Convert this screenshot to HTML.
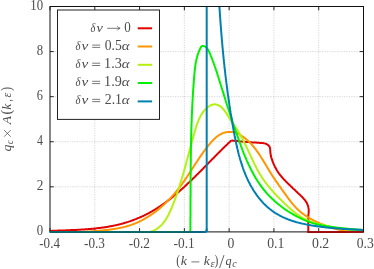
<!DOCTYPE html>
<html><head><meta charset="utf-8"><title>plot</title>
<style>html,body{margin:0;padding:0;background:#fff}svg{display:block}.ser{font-family:"Liberation Serif",serif}</style>
</head><body>
<svg width="374" height="269" viewBox="0 0 374 269">
<rect width="374" height="269" fill="#fff"/>
<path d="M94.79 231.90 V6.50 M139.57 231.90 V6.50 M184.36 231.90 V6.50 M229.14 231.90 V6.50 M273.93 231.90 V6.50 M318.71 231.90 V6.50 M50.00 186.82 H363.50 M50.00 141.74 H363.50 M50.00 96.66 H363.50 M50.00 51.58 H363.50" stroke="#bbb" stroke-width="0.6" stroke-dasharray="1.2 1.25" fill="none"/>
<path d="M50.00 231.90 v-3.80 M50.00 6.50 v3.80 M94.79 231.90 v-3.80 M94.79 6.50 v3.80 M139.57 231.90 v-3.80 M139.57 6.50 v3.80 M184.36 231.90 v-3.80 M184.36 6.50 v3.80 M229.14 231.90 v-3.80 M229.14 6.50 v3.80 M273.93 231.90 v-3.80 M273.93 6.50 v3.80 M318.71 231.90 v-3.80 M318.71 6.50 v3.80 M363.50 231.90 v-3.80 M363.50 6.50 v3.80 M50.00 231.90 h3.80 M363.50 231.90 h-3.80 M50.00 186.82 h3.80 M363.50 186.82 h-3.80 M50.00 141.74 h3.80 M363.50 141.74 h-3.80 M50.00 96.66 h3.80 M363.50 96.66 h-3.80 M50.00 51.58 h3.80 M363.50 51.58 h-3.80 M50.00 6.50 h3.80 M363.50 6.50 h-3.80" stroke="#111" stroke-width="0.9" fill="none"/>
<clipPath id="cp"><rect x="49.00" y="6.50" width="315.50" height="226.60"/></clipPath>
<g fill="none" stroke-width="2.0" stroke-linejoin="round" stroke-linecap="butt" clip-path="url(#cp)">
<path d="M50.0 231.0 L50.8 230.9 L51.6 230.9 L52.4 230.8 L53.2 230.8 L54.0 230.8 L54.8 230.7 L55.6 230.7 L56.4 230.7 L57.2 230.7 L58.0 230.6 L58.8 230.6 L59.6 230.6 L60.3 230.5 L61.1 230.5 L61.9 230.5 L62.7 230.4 L63.5 230.4 L64.4 230.4 L65.2 230.4 L66.0 230.3 L66.8 230.3 L67.6 230.3 L68.4 230.2 L69.2 230.2 L70.0 230.2 L70.8 230.1 L71.6 230.1 L72.4 230.1 L73.2 230.0 L74.0 230.0 L74.8 230.0 L75.6 229.9 L76.4 229.9 L77.2 229.8 L78.1 229.8 L78.9 229.7 L79.7 229.7 L80.5 229.7 L81.3 229.6 L82.1 229.6 L82.9 229.5 L83.7 229.5 L84.5 229.4 L85.3 229.3 L86.1 229.3 L87.0 229.2 L87.8 229.2 L88.6 229.1 L89.4 229.0 L90.2 229.0 L91.0 228.9 L91.8 228.8 L92.6 228.7 L93.4 228.7 L94.2 228.6 L95.0 228.5 L95.8 228.4 L96.6 228.3 L97.4 228.2 L98.3 228.1 L99.1 228.0 L99.9 227.9 L100.7 227.8 L101.5 227.7 L102.3 227.6 L103.1 227.5 L103.9 227.4 L104.7 227.3 L105.5 227.2 L106.3 227.0 L107.1 226.9 L107.9 226.8 L108.6 226.6 L109.4 226.5 L110.2 226.3 L111.0 226.2 L111.8 226.0 L112.6 225.9 L113.4 225.7 L114.2 225.6 L115.0 225.4 L115.8 225.2 L116.5 225.1 L117.3 224.9 L118.1 224.7 L118.9 224.5 L119.7 224.3 L120.4 224.1 L121.2 223.9 L122.0 223.7 L122.8 223.5 L123.5 223.3 L124.3 223.0 L125.1 222.8 L125.9 222.6 L126.6 222.3 L127.4 222.1 L128.1 221.9 L128.9 221.6 L129.7 221.4 L130.4 221.1 L131.2 220.8 L131.9 220.6 L132.7 220.3 L133.4 220.0 L134.2 219.7 L134.9 219.4 L135.7 219.1 L136.4 218.8 L137.2 218.5 L137.9 218.2 L138.6 217.9 L139.4 217.6 L140.1 217.3 L140.9 217.0 L141.6 216.6 L142.3 216.3 L143.0 216.0 L143.8 215.6 L144.5 215.3 L145.2 214.9 L145.9 214.6 L146.6 214.2 L147.3 213.8 L148.0 213.5 L148.8 213.1 L149.5 212.7 L150.2 212.3 L150.9 211.9 L151.6 211.5 L152.3 211.1 L153.0 210.7 L153.6 210.3 L154.3 209.9 L155.0 209.5 L155.7 209.1 L156.4 208.6 L157.1 208.2 L157.7 207.8 L158.4 207.3 L159.1 206.9 L159.8 206.4 L160.4 206.0 L161.1 205.5 L161.7 205.1 L162.4 204.6 L163.1 204.2 L163.7 203.7 L164.4 203.2 L165.0 202.8 L165.7 202.3 L166.3 201.8 L167.0 201.3 L167.6 200.8 L168.3 200.3 L168.9 199.9 L169.5 199.4 L170.2 198.9 L170.8 198.4 L171.4 197.9 L172.1 197.4 L172.7 196.9 L173.3 196.4 L173.9 195.8 L174.6 195.3 L175.2 194.8 L175.8 194.3 L176.4 193.8 L177.0 193.3 L177.6 192.7 L178.3 192.2 L178.9 191.7 L179.5 191.2 L180.1 190.6 L180.7 190.1 L181.3 189.6 L181.9 189.0 L182.5 188.5 L183.1 187.9 L183.7 187.4 L184.3 186.9 L184.9 186.3 L185.5 185.8 L186.1 185.2 L186.6 184.7 L187.2 184.1 L187.8 183.6 L188.4 183.0 L189.0 182.5 L189.6 181.9 L190.2 181.3 L190.7 180.8 L191.3 180.2 L191.9 179.7 L192.5 179.1 L193.1 178.5 L193.6 178.0 L194.2 177.4 L194.8 176.9 L195.4 176.3 L195.9 175.7 L196.5 175.1 L197.1 174.6 L197.7 174.0 L198.2 173.4 L198.8 172.9 L199.4 172.3 L199.9 171.7 L200.5 171.2 L201.1 170.6 L201.7 170.0 L202.2 169.4 L202.8 168.9 L203.4 168.3 L203.9 167.7 L204.5 167.1 L205.1 166.6 L205.6 166.0 L206.2 165.4 L206.7 164.8 L207.3 164.3 L207.9 163.7 L208.4 163.1 L209.0 162.5 L209.6 161.9 L210.1 161.4 L210.7 160.8 L211.3 160.2 L211.8 159.6 L212.4 159.1 L213.0 158.5 L213.5 157.9 L214.1 157.4 L214.6 156.8 L215.2 156.2 L215.8 155.6 L216.3 155.1 L216.9 154.5 L217.5 153.9 L218.0 153.4 L218.6 152.8 L219.2 152.2 L219.7 151.7 L220.3 151.1 L220.9 150.5 L221.5 150.0 L222.0 149.4 L222.6 148.8 L223.2 148.3 L223.7 147.7 L224.3 147.1 L224.9 146.6 L225.5 146.0 L226.0 145.5 L226.6 144.9 L227.2 144.4 L227.8 143.8 L228.3 143.3 L228.9 142.7 L229.5 142.2 L230.1 141.6 L230.7 141.1 L231.3 140.5 M231.3 140.5 L232.1 140.6 L232.9 140.7 L233.7 140.7 L234.5 140.8 L235.3 140.9 L236.1 141.0 L236.9 141.1 L237.7 141.1 L238.5 141.2 L239.3 141.3 L240.2 141.4 L241.0 141.4 L241.8 141.5 L242.6 141.6 L243.4 141.7 L244.2 141.7 L245.0 141.8 L245.8 141.9 L246.6 141.9 L247.4 142.0 L248.2 142.1 L249.0 142.1 L249.8 142.2 L250.6 142.3 L251.4 142.3 L252.2 142.4 L253.0 142.4 L253.8 142.5 L254.6 142.5 L255.4 142.6 L256.2 142.6 L257.0 142.7 L257.8 142.7 L258.6 142.8 L259.5 142.8 L260.3 142.9 L261.1 142.9 L261.9 143.0 L262.8 143.1 L263.6 143.2 L264.4 143.4 L265.2 143.6 L266.0 143.8 L266.7 144.2 L267.4 144.6 L268.0 145.0 L268.6 145.5 L269.1 146.1 L269.5 146.7 L269.8 147.4 L270.0 148.2 L270.2 149.0 L270.2 149.8 L270.3 150.6 L270.3 151.5 L270.4 152.3 L270.5 153.2 L270.6 154.0 L270.7 154.8 L270.8 155.6 L271.0 156.4 L271.2 157.2 L271.4 157.9 L271.7 158.7 L271.9 159.4 L272.2 160.2 L272.4 160.9 L272.7 161.7 L273.0 162.4 L273.3 163.2 L273.6 163.9 L274.0 164.7 L274.3 165.4 L274.7 166.2 L275.0 166.9 L275.4 167.6 L275.8 168.3 L276.2 169.0 L276.6 169.8 L277.0 170.5 L277.4 171.1 L277.8 171.8 L278.3 172.5 L278.8 173.2 L279.2 173.8 L279.7 174.5 L280.2 175.1 L280.7 175.7 L281.3 176.4 L281.8 177.0 L282.3 177.6 L282.9 178.2 L283.4 178.8 L283.9 179.4 L284.5 179.9 L285.1 180.5 L285.6 181.1 L286.2 181.7 L286.8 182.2 L287.3 182.8 L287.9 183.4 L288.5 183.9 L289.0 184.5 L289.6 185.1 L290.2 185.6 L290.8 186.2 L291.4 186.7 L291.9 187.3 L292.5 187.9 L293.1 188.4 L293.7 189.0 L294.3 189.5 L294.9 190.1 L295.5 190.6 L296.0 191.2 L296.6 191.7 L297.2 192.3 L297.8 192.9 L298.4 193.4 L299.0 194.0 L299.6 194.5 L300.2 195.1 L300.8 195.7 L301.4 196.2 L301.9 196.8 L302.5 197.4 L303.1 198.0 L303.6 198.6 L304.2 199.2 L304.7 199.8 L305.2 200.4 L305.6 201.1 L306.1 201.8 L306.5 202.4 L306.9 203.1 L307.2 203.9 L307.5 204.6 L307.8 205.3 L308.1 206.1 L308.3 206.9 L308.4 207.7 L308.6 208.5 L308.7 209.3 L308.7 210.1 L308.7 210.9 L308.7 211.8 L308.7 212.6 L308.6 213.4 L308.5 214.2 L308.3 215.0 L308.3 231.9 L363.5 231.9" stroke="#e00000"/>
<path d="M50.0 232.2 L50.8 232.2 L51.6 232.2 L52.4 232.2 L53.2 232.2 L54.0 232.2 L54.9 232.2 L55.7 232.2 L56.5 232.2 L57.3 232.2 L58.1 232.2 L58.9 232.3 L59.7 232.3 L60.5 232.3 L61.3 232.3 L62.1 232.3 L62.9 232.3 L63.7 232.3 L64.5 232.2 L65.3 232.2 L66.1 232.2 L66.9 232.2 L67.7 232.2 L68.5 232.2 L69.3 232.2 L70.1 232.2 L70.9 232.2 L71.7 232.2 L72.5 232.1 L73.3 232.1 L74.1 232.1 L74.9 232.1 L75.7 232.1 L76.5 232.1 L77.3 232.0 L78.1 232.0 L78.9 232.0 L79.7 232.0 L80.5 231.9 L81.3 231.9 L82.1 231.9 L82.9 231.8 L83.7 231.8 L84.5 231.8 L85.3 231.7 L86.1 231.7 L86.9 231.6 L87.7 231.6 L88.5 231.5 L89.3 231.5 L90.1 231.4 L90.9 231.4 L91.7 231.3 L92.5 231.3 L93.3 231.2 L94.1 231.2 L94.9 231.1 L95.7 231.1 L96.5 231.0 L97.3 230.9 L98.1 230.9 L98.9 230.8 L99.7 230.7 L100.5 230.6 L101.3 230.6 L102.1 230.5 L102.9 230.4 L103.7 230.3 L104.5 230.2 L105.3 230.1 L106.1 230.0 L106.9 230.0 L107.7 229.9 L108.5 229.8 L109.3 229.7 L110.1 229.5 L110.9 229.4 L111.7 229.3 L112.5 229.2 L113.3 229.1 L114.1 229.0 L114.9 228.8 L115.7 228.7 L116.5 228.6 L117.3 228.4 L118.1 228.3 L118.9 228.1 L119.7 228.0 L120.5 227.8 L121.3 227.6 L122.1 227.4 L122.9 227.3 L123.6 227.1 L124.4 226.9 L125.2 226.7 L126.0 226.5 L126.7 226.3 L127.5 226.0 L128.3 225.8 L129.1 225.6 L129.8 225.3 L130.6 225.1 L131.3 224.8 L132.1 224.6 L132.8 224.3 L133.6 224.0 L134.3 223.7 L135.1 223.4 L135.8 223.1 L136.5 222.8 L137.3 222.5 L138.0 222.2 L138.7 221.8 L139.4 221.5 L140.2 221.1 L140.9 220.8 L141.6 220.4 L142.3 220.1 L143.0 219.7 L143.7 219.3 L144.4 218.9 L145.1 218.5 L145.8 218.1 L146.5 217.7 L147.2 217.3 L147.8 216.9 L148.5 216.5 L149.2 216.0 L149.9 215.6 L150.5 215.2 L151.2 214.7 L151.9 214.3 L152.5 213.8 L153.2 213.3 L153.8 212.9 L154.5 212.4 L155.1 211.9 L155.8 211.4 L156.4 210.9 L157.0 210.4 L157.7 209.9 L158.3 209.4 L158.9 208.9 L159.5 208.4 L160.2 207.9 L160.8 207.4 L161.4 206.8 L162.0 206.3 L162.6 205.8 L163.2 205.2 L163.8 204.7 L164.4 204.1 L165.0 203.6 L165.6 203.0 L166.1 202.5 L166.7 201.9 L167.3 201.3 L167.9 200.8 L168.4 200.2 L169.0 199.6 L169.6 199.0 L170.1 198.4 L170.7 197.9 L171.2 197.3 L171.8 196.7 L172.3 196.1 L172.8 195.5 L173.4 194.9 L173.9 194.3 L174.4 193.6 L175.0 193.0 L175.5 192.4 L176.0 191.8 L176.5 191.2 L177.0 190.5 L177.5 189.9 L178.0 189.3 L178.5 188.7 L179.0 188.0 L179.5 187.4 L180.0 186.8 L180.5 186.1 L181.0 185.5 L181.4 184.8 L181.9 184.2 L182.4 183.5 L182.8 182.9 L183.3 182.2 L183.7 181.6 L184.2 180.9 L184.7 180.3 L185.1 179.6 L185.6 179.0 L186.0 178.3 L186.4 177.7 L186.9 177.0 L187.3 176.3 L187.8 175.7 L188.2 175.0 L188.6 174.4 L189.1 173.7 L189.5 173.0 L189.9 172.4 L190.4 171.7 L190.8 171.0 L191.2 170.4 L191.7 169.7 L192.1 169.0 L192.5 168.3 L193.0 167.7 L193.4 167.0 L193.8 166.3 L194.2 165.7 L194.7 165.0 L195.1 164.3 L195.5 163.7 L196.0 163.0 L196.4 162.3 L196.9 161.6 L197.3 161.0 L197.7 160.3 L198.2 159.6 L198.6 159.0 L199.1 158.3 L199.5 157.6 L200.0 157.0 L200.4 156.3 L200.9 155.6 L201.4 155.0 L201.8 154.3 L202.3 153.6 L202.8 153.0 L203.2 152.3 L203.7 151.7 L204.2 151.0 L204.7 150.3 L205.2 149.7 L205.7 149.0 L206.2 148.4 L206.7 147.7 L207.2 147.1 L207.7 146.4 L208.2 145.8 L208.7 145.1 L209.3 144.5 L209.8 143.8 L210.3 143.2 L210.9 142.6 L211.4 141.9 L212.0 141.3 L212.6 140.7 L213.1 140.1 L213.7 139.5 L214.3 138.9 L214.9 138.4 L215.5 137.8 L216.1 137.3 L216.7 136.8 L217.4 136.3 L218.0 135.8 L218.7 135.4 L219.3 134.9 L220.0 134.5 L220.7 134.2 L221.4 133.8 L222.1 133.5 L222.8 133.2 L223.5 132.9 L224.2 132.7 L225.0 132.5 L225.7 132.3 L226.4 132.2 L227.2 132.1 L228.0 132.0 L228.7 131.9 L229.5 131.9 L230.3 131.9 L231.0 131.9 L231.8 132.0 L232.5 132.1 L233.3 132.2 L234.1 132.4 L234.8 132.6 L235.6 132.8 L236.3 133.0 L237.0 133.3 L237.8 133.6 L238.5 134.0 L239.2 134.3 L239.9 134.7 L240.6 135.1 L241.3 135.5 L242.0 136.0 L242.7 136.4 L243.3 136.9 L244.0 137.4 L244.6 137.9 L245.3 138.4 L245.9 138.9 L246.5 139.4 L247.1 140.0 L247.7 140.5 L248.3 141.1 L248.9 141.6 L249.5 142.2 L250.0 142.8 L250.6 143.3 L251.2 143.9 L251.7 144.5 L252.2 145.1 L252.8 145.7 L253.3 146.3 L253.8 147.0 L254.3 147.6 L254.8 148.2 L255.3 148.8 L255.8 149.5 L256.3 150.1 L256.7 150.8 L257.2 151.4 L257.7 152.1 L258.1 152.8 L258.6 153.4 L259.1 154.1 L259.5 154.8 L260.0 155.4 L260.4 156.1 L260.8 156.8 L261.3 157.5 L261.7 158.2 L262.1 158.9 L262.6 159.5 L263.0 160.2 L263.4 160.9 L263.8 161.6 L264.3 162.3 L264.7 163.0 L265.1 163.7 L265.5 164.4 L265.9 165.1 L266.3 165.8 L266.7 166.5 L267.2 167.2 L267.6 167.9 L268.0 168.6 L268.4 169.3 L268.8 170.0 L269.2 170.7 L269.7 171.3 L270.1 172.0 L270.5 172.7 L270.9 173.4 L271.4 174.1 L271.8 174.7 L272.2 175.4 L272.6 176.1 L273.1 176.8 L273.5 177.4 L274.0 178.1 L274.4 178.7 L274.9 179.4 L275.3 180.1 L275.7 180.7 L276.2 181.4 L276.7 182.0 L277.1 182.7 L277.6 183.3 L278.0 184.0 L278.5 184.6 L278.9 185.3 L279.4 185.9 L279.9 186.6 L280.3 187.2 L280.8 187.9 L281.2 188.5 L281.7 189.2 L282.2 189.8 L282.6 190.5 L283.1 191.1 L283.6 191.8 L284.0 192.4 L284.5 193.1 L285.0 193.7 L285.4 194.4 L285.9 195.0 L286.4 195.7 L286.8 196.3 L287.3 197.0 L287.8 197.7 L288.3 198.3 L288.7 199.0 L289.2 199.6 L289.7 200.2 L290.2 200.9 L290.7 201.5 L291.2 202.2 L291.7 202.8 L292.2 203.4 L292.7 204.0 L293.2 204.6 L293.8 205.2 L294.3 205.8 L294.8 206.4 L295.4 207.0 L295.9 207.6 L296.5 208.2 L297.0 208.7 L297.6 209.3 L298.2 209.8 L298.8 210.4 L299.4 210.9 L300.0 211.4 L300.6 211.9 L301.2 212.4 L301.8 212.9 L302.4 213.4 L303.1 213.9 L303.7 214.3 L304.4 214.8 L305.0 215.3 L305.7 215.7 L306.3 216.2 L307.0 216.6 L307.7 217.0 L308.4 217.4 L309.0 217.9 L309.7 218.3 L310.4 218.7 L311.1 219.0 L311.8 219.4 L312.5 219.8 L313.2 220.2 L314.0 220.6 L314.7 220.9 L315.4 221.3 L316.1 221.6 L316.9 222.0 L317.6 222.3 L318.3 222.6 L319.1 222.9 L319.8 223.3 L320.5 223.6 L321.3 223.9 L322.0 224.2 L322.8 224.5 L323.5 224.8 L324.3 225.1 L325.0 225.4 L325.8 225.7 L326.6 225.9 L327.3 226.2 L328.1 226.5 L328.8 226.8 L329.6 227.0 L330.3 227.3 L331.1 227.5 L331.9 227.8 L332.6 228.0 L333.4 228.3 L334.1 228.5 L334.9 228.7 L335.7 228.9 L336.4 229.1 L337.2 229.3 L338.0 229.5 L338.8 229.7 L339.5 229.8 L340.3 230.0 L341.1 230.1 L341.9 230.3 L342.6 230.4 L343.4 230.5 L344.2 230.6 L345.0 230.8 L345.8 230.8 L346.6 230.9 L347.4 231.0 L348.2 231.1 L349.0 231.1 L349.8 231.2 L350.6 231.3 L351.4 231.3 L352.2 231.3 L353.0 231.4 L353.8 231.4 L354.6 231.4 L355.4 231.4 L356.2 231.4 L357.0 231.4 L357.8 231.4 L358.6 231.4 L359.4 231.4 L360.3 231.4 L361.1 231.4 L361.9 231.3 L362.7 231.3 L363.5 231.3" stroke="#ff9500"/>
<path d="M149.0 232.2 L149.8 232.0 L150.7 231.8 L151.4 231.5 L152.2 231.2 L153.0 230.9 L153.7 230.6 L154.4 230.2 L155.1 229.9 L155.8 229.5 L156.5 229.1 L157.2 228.6 L157.8 228.2 L158.4 227.7 L159.0 227.2 L159.6 226.7 L160.2 226.2 L160.8 225.7 L161.3 225.2 L161.8 224.6 L162.4 224.0 L162.9 223.4 L163.4 222.8 L163.9 222.2 L164.3 221.6 L164.8 220.9 L165.2 220.3 L165.7 219.6 L166.1 219.0 L166.5 218.3 L166.9 217.6 L167.3 216.9 L167.7 216.2 L168.1 215.5 L168.5 214.8 L168.9 214.0 L169.2 213.3 L169.6 212.6 L169.9 211.8 L170.3 211.1 L170.6 210.3 L170.9 209.6 L171.3 208.8 L171.6 208.0 L171.9 207.3 L172.2 206.5 L172.5 205.8 L172.8 205.0 L173.1 204.2 L173.4 203.5 L173.7 202.7 L174.0 201.9 L174.3 201.2 L174.6 200.4 L174.9 199.6 L175.1 198.9 L175.4 198.1 L175.7 197.4 L176.0 196.6 L176.2 195.8 L176.5 195.1 L176.8 194.3 L177.0 193.5 L177.3 192.8 L177.6 192.0 L177.8 191.3 L178.1 190.5 L178.3 189.7 L178.6 189.0 L178.8 188.2 L179.1 187.5 L179.3 186.7 L179.6 185.9 L179.8 185.2 L180.0 184.4 L180.3 183.7 L180.5 182.9 L180.7 182.1 L181.0 181.4 L181.2 180.6 L181.4 179.9 L181.7 179.1 L181.9 178.3 L182.1 177.6 L182.3 176.8 L182.6 176.0 L182.8 175.3 L183.0 174.5 L183.2 173.8 L183.4 173.0 L183.7 172.2 L183.9 171.5 L184.1 170.7 L184.3 169.9 L184.5 169.2 L184.7 168.4 L184.9 167.7 L185.2 166.9 L185.4 166.1 L185.6 165.4 L185.8 164.6 L186.0 163.8 L186.2 163.1 L186.4 162.3 L186.6 161.5 L186.8 160.8 L187.0 160.0 L187.2 159.2 L187.4 158.5 L187.6 157.7 L187.9 156.9 L188.1 156.1 L188.3 155.4 L188.5 154.6 L188.7 153.8 L188.9 153.1 L189.1 152.3 L189.3 151.5 L189.5 150.7 L189.7 150.0 L189.9 149.2 L190.1 148.4 L190.3 147.6 L190.5 146.9 L190.7 146.1 L191.0 145.3 L191.2 144.5 L191.4 143.8 L191.6 143.0 L191.8 142.2 L192.0 141.4 L192.2 140.6 L192.4 139.9 L192.7 139.1 L192.9 138.3 L193.1 137.5 L193.3 136.7 L193.5 135.9 L193.8 135.2 L194.0 134.4 L194.2 133.6 L194.4 132.8 L194.7 132.0 L194.9 131.2 L195.1 130.4 L195.3 129.6 L195.6 128.8 L195.8 128.0 L196.1 127.3 L196.3 126.5 L196.6 125.7 L196.8 124.9 L197.1 124.1 L197.4 123.4 L197.6 122.6 L197.9 121.8 L198.2 121.1 L198.5 120.3 L198.9 119.6 L199.2 118.8 L199.5 118.1 L199.9 117.4 L200.2 116.7 L200.6 116.0 L201.0 115.3 L201.4 114.6 L201.8 113.9 L202.2 113.3 L202.7 112.6 L203.2 112.0 L203.6 111.3 L204.1 110.7 L204.7 110.1 L205.2 109.6 L205.8 109.0 L206.3 108.4 L206.9 107.9 L207.5 107.4 L208.2 106.9 L208.8 106.4 L209.5 106.0 L210.2 105.6 L210.9 105.2 L211.6 104.9 L212.3 104.7 L213.0 104.5 L213.7 104.4 L214.5 104.3 L215.2 104.3 L215.9 104.4 L216.6 104.6 L217.3 104.8 L218.0 105.1 L218.7 105.4 L219.4 105.8 L220.0 106.2 L220.6 106.6 L221.2 107.1 L221.8 107.6 L222.4 108.2 L222.9 108.8 L223.4 109.4 L224.0 110.0 L224.5 110.6 L225.0 111.3 L225.5 112.0 L226.0 112.7 L226.4 113.4 L226.9 114.1 L227.3 114.8 L227.8 115.6 L228.3 116.3 L228.7 117.1 L229.1 117.8 L229.6 118.5 L230.0 119.3 L230.5 120.0 L230.9 120.7 L231.4 121.4 L231.8 122.1 L232.3 122.7 L232.7 123.4 L233.2 124.1 L233.6 124.7 L234.1 125.4 L234.5 126.0 L235.0 126.7 L235.4 127.3 L235.9 127.9 L236.3 128.6 L236.8 129.2 L237.2 129.9 L237.6 130.5 L238.0 131.2 L238.4 131.9 L238.9 132.5 L239.3 133.2 L239.7 133.9 L240.1 134.5 L240.5 135.2 L240.8 135.9 L241.2 136.6 L241.6 137.3 L242.0 138.0 L242.4 138.7 L242.7 139.4 L243.1 140.1 L243.5 140.8 L243.8 141.5 L244.2 142.2 L244.5 142.9 L244.9 143.7 L245.2 144.4 L245.6 145.1 L245.9 145.8 L246.3 146.5 L246.6 147.3 L247.0 148.0 L247.3 148.7 L247.6 149.5 L248.0 150.2 L248.3 150.9 L248.7 151.7 L249.0 152.4 L249.3 153.1 L249.7 153.9 L250.0 154.6 L250.4 155.3 L250.7 156.1 L251.0 156.8 L251.4 157.5 L251.7 158.3 L252.1 159.0 L252.4 159.8 L252.8 160.5 L253.1 161.2 L253.5 161.9 L253.8 162.7 L254.2 163.4 L254.5 164.1 L254.9 164.9 L255.2 165.6 L255.6 166.3 L256.0 167.0 L256.3 167.7 L256.7 168.4 L257.1 169.2 L257.5 169.9 L257.9 170.6 L258.3 171.3 L258.7 172.0 L259.0 172.7 L259.5 173.4 L259.9 174.1 L260.3 174.7 L260.7 175.4 L261.1 176.1 L261.5 176.8 L262.0 177.4 L262.4 178.1 L262.9 178.8 L263.3 179.4 L263.8 180.1 L264.2 180.7 L264.7 181.4 L265.2 182.0 L265.6 182.7 L266.1 183.3 L266.6 184.0 L267.1 184.6 L267.6 185.2 L268.1 185.8 L268.6 186.5 L269.1 187.1 L269.6 187.7 L270.1 188.3 L270.6 188.9 L271.2 189.5 L271.7 190.1 L272.2 190.7 L272.7 191.3 L273.3 191.9 L273.8 192.5 L274.4 193.1 L274.9 193.7 L275.5 194.3 L276.0 194.9 L276.6 195.4 L277.1 196.0 L277.7 196.6 L278.2 197.2 L278.8 197.7 L279.4 198.3 L279.9 198.9 L280.5 199.4 L281.1 200.0 L281.7 200.6 L282.2 201.1 L282.8 201.7 L283.4 202.3 L284.0 202.8 L284.6 203.4 L285.2 203.9 L285.7 204.5 L286.3 205.0 L286.9 205.6 L287.5 206.1 L288.1 206.7 L288.7 207.2 L289.3 207.8 L289.9 208.3 L290.5 208.8 L291.1 209.4 L291.7 209.9 L292.3 210.4 L292.9 211.0 L293.5 211.5 L294.2 212.0 L294.8 212.5 L295.4 213.0 L296.0 213.5 L296.7 213.9 L297.3 214.4 L298.0 214.9 L298.6 215.3 L299.3 215.8 L299.9 216.2 L300.6 216.7 L301.3 217.1 L302.0 217.5 L302.6 217.9 L303.3 218.3 L304.0 218.6 L304.7 219.0 L305.5 219.3 L306.2 219.7 L306.9 220.0 L307.6 220.3 L308.4 220.6 L309.1 220.9 L309.9 221.2 L310.6 221.5 L311.4 221.7 L312.2 222.0 L312.9 222.2 L313.7 222.5 L314.5 222.7 L315.2 222.9 L316.0 223.1 L316.8 223.4 L317.6 223.6 L318.4 223.8 L319.2 224.0 L319.9 224.2 L320.7 224.4 L321.5 224.6 L322.3 224.8 L323.1 224.9 L323.9 225.1 L324.7 225.3 L325.5 225.5 L326.2 225.7 L327.0 225.9 L327.8 226.0 L328.6 226.2 L329.4 226.4 L330.2 226.6 L330.9 226.7 L331.7 226.9 L332.5 227.1 L333.3 227.2 L334.1 227.4 L334.9 227.5 L335.6 227.7 L336.4 227.9 L337.2 228.0 L338.0 228.2 L338.8 228.3 L339.6 228.4 L340.4 228.6 L341.1 228.7 L341.9 228.8 L342.7 229.0 L343.5 229.1 L344.3 229.2 L345.1 229.3 L345.9 229.4 L346.6 229.5 L347.4 229.6 L348.2 229.7 L349.0 229.8 L349.8 229.9 L350.6 230.0 L351.4 230.1 L352.2 230.1 L353.0 230.2 L353.8 230.3 L354.6 230.3 L355.4 230.4 L356.2 230.4 L357.0 230.4 L357.8 230.5 L358.6 230.5 L359.4 230.5 L360.3 230.5 L361.1 230.6 L361.9 230.6 L362.7 230.5 L363.5 230.5" stroke="#b4f010"/>
<path d="M190.3 231.9 L190.3 231.1 L190.3 230.3 L190.4 229.5 L190.4 228.7 L190.4 227.9 L190.4 227.1 L190.4 226.3 L190.4 225.5 L190.4 224.7 L190.4 223.9 L190.4 223.1 L190.4 222.3 L190.4 221.5 L190.4 220.7 L190.4 219.9 L190.4 219.1 L190.4 218.3 L190.4 217.5 L190.5 216.6 L190.5 215.8 L190.5 215.0 L190.5 214.2 L190.5 213.4 L190.5 212.6 L190.5 211.8 L190.5 211.0 L190.5 210.2 L190.5 209.4 L190.5 208.6 L190.5 207.8 L190.5 207.0 L190.5 206.2 L190.5 205.4 L190.5 204.6 L190.5 203.8 L190.5 203.0 L190.5 202.2 L190.5 201.4 L190.5 200.6 L190.5 199.8 L190.5 199.0 L190.5 198.2 L190.5 197.4 L190.5 196.6 L190.6 195.8 L190.6 195.0 L190.6 194.2 L190.6 193.4 L190.6 192.6 L190.6 191.8 L190.6 191.0 L190.6 190.2 L190.6 189.4 L190.6 188.6 L190.6 187.8 L190.6 187.0 L190.6 186.2 L190.6 185.4 L190.6 184.6 L190.6 183.8 L190.6 183.0 L190.6 182.2 L190.6 181.4 L190.6 180.6 L190.6 179.8 L190.6 179.0 L190.6 178.2 L190.6 177.4 L190.6 176.5 L190.6 175.7 L190.7 174.9 L190.7 174.1 L190.7 173.3 L190.7 172.5 L190.7 171.7 L190.7 170.9 L190.7 170.1 L190.7 169.3 L190.7 168.5 L190.7 167.7 L190.7 166.9 L190.7 166.1 L190.7 165.3 L190.7 164.5 L190.7 163.7 L190.8 162.9 L190.8 162.1 L190.8 161.3 L190.8 160.5 L190.8 159.7 L190.8 158.9 L190.8 158.1 L190.8 157.3 L190.8 156.5 L190.8 155.7 L190.8 154.9 L190.9 154.1 L190.9 153.3 L190.9 152.5 L190.9 151.7 L190.9 150.9 L190.9 150.1 L190.9 149.3 L190.9 148.5 L191.0 147.7 L191.0 146.9 L191.0 146.1 L191.0 145.3 L191.0 144.5 L191.0 143.7 L191.0 142.9 L191.1 142.1 L191.1 141.3 L191.1 140.5 L191.1 139.7 L191.1 138.9 L191.1 138.1 L191.2 137.3 L191.2 136.5 L191.2 135.7 L191.2 134.9 L191.2 134.1 L191.3 133.3 L191.3 132.5 L191.3 131.7 L191.3 130.9 L191.3 130.1 L191.4 129.3 L191.4 128.5 L191.4 127.7 L191.4 126.9 L191.5 126.1 L191.5 125.3 L191.5 124.5 L191.5 123.7 L191.6 122.9 L191.6 122.1 L191.6 121.3 L191.7 120.5 L191.7 119.7 L191.7 118.9 L191.7 118.1 L191.8 117.3 L191.8 116.5 L191.8 115.7 L191.9 114.9 L191.9 114.1 L191.9 113.3 L192.0 112.5 L192.0 111.7 L192.0 110.9 L192.1 110.1 L192.1 109.3 L192.2 108.5 L192.2 107.7 L192.2 106.9 L192.3 106.1 L192.3 105.3 L192.3 104.5 L192.4 103.7 L192.4 102.9 L192.5 102.1 L192.5 101.3 L192.6 100.5 L192.6 99.7 L192.6 98.8 L192.7 98.0 L192.7 97.2 L192.8 96.4 L192.8 95.6 L192.9 94.8 L192.9 94.0 L193.0 93.2 L193.0 92.4 L193.1 91.6 L193.1 90.8 L193.2 90.0 L193.2 89.2 L193.3 88.4 L193.4 87.6 L193.4 86.8 L193.5 86.0 L193.5 85.2 L193.6 84.4 L193.6 83.6 L193.7 82.8 L193.8 82.0 L193.8 81.2 L193.9 80.4 L193.9 79.6 L194.0 78.8 L194.1 78.0 L194.1 77.2 L194.2 76.4 L194.3 75.6 L194.3 74.8 L194.4 74.0 L194.5 73.2 L194.6 72.4 L194.6 71.6 L194.7 70.8 L194.8 70.0 L194.9 69.2 L195.0 68.4 L195.1 67.6 L195.2 66.8 L195.3 66.0 L195.4 65.2 L195.5 64.4 L195.6 63.6 L195.8 62.8 L195.9 62.0 L196.1 61.2 L196.2 60.5 L196.4 59.7 L196.6 58.9 L196.8 58.1 L197.0 57.3 L197.2 56.6 L197.4 55.8 L197.6 55.0 L197.9 54.3 L198.1 53.5 L198.4 52.8 L198.7 52.0 L199.0 51.3 L199.3 50.5 L199.6 49.8 L200.0 49.0 L200.3 48.3 L200.7 47.6 L201.1 47.0 L201.6 46.4 L202.1 46.1 L202.7 45.9 L203.4 45.9 L204.1 46.1 L204.8 46.5 L205.6 47.0 L206.3 47.6 L206.9 48.2 L207.4 48.8 L207.9 49.5 L208.4 50.2 L208.7 50.9 L209.1 51.6 L209.4 52.4 L209.7 53.1 L210.1 53.8 L210.4 54.6 L210.7 55.3 L211.0 56.1 L211.3 56.8 L211.6 57.6 L211.9 58.3 L212.2 59.0 L212.4 59.8 L212.7 60.5 L213.0 61.3 L213.3 62.0 L213.6 62.8 L213.8 63.6 L214.1 64.3 L214.4 65.1 L214.6 65.8 L214.9 66.6 L215.2 67.3 L215.4 68.1 L215.7 68.9 L215.9 69.6 L216.2 70.4 L216.5 71.2 L216.7 71.9 L217.0 72.7 L217.2 73.5 L217.4 74.2 L217.7 75.0 L217.9 75.8 L218.2 76.5 L218.4 77.3 L218.7 78.1 L218.9 78.8 L219.1 79.6 L219.4 80.4 L219.6 81.1 L219.9 81.9 L220.1 82.7 L220.3 83.4 L220.6 84.2 L220.8 85.0 L221.0 85.7 L221.3 86.5 L221.5 87.3 L221.8 88.0 L222.0 88.8 L222.2 89.6 L222.5 90.3 L222.7 91.1 L222.9 91.9 L223.2 92.6 L223.4 93.4 L223.7 94.2 L223.9 94.9 L224.1 95.7 L224.4 96.5 L224.6 97.2 L224.8 98.0 L225.1 98.7 L225.3 99.5 L225.6 100.3 L225.8 101.0 L226.0 101.8 L226.3 102.5 L226.5 103.3 L226.8 104.1 L227.0 104.8 L227.3 105.6 L227.5 106.3 L227.7 107.1 L228.0 107.9 L228.2 108.6 L228.5 109.4 L228.7 110.1 L229.0 110.9 L229.2 111.7 L229.5 112.4 L229.7 113.2 L230.0 113.9 L230.2 114.7 L230.4 115.4 L230.7 116.2 L230.9 117.0 L231.2 117.7 L231.4 118.5 L231.7 119.2 L231.9 120.0 L232.2 120.7 L232.5 121.5 L232.7 122.3 L233.0 123.0 L233.2 123.8 L233.5 124.5 L233.7 125.3 L234.0 126.0 L234.2 126.8 L234.5 127.6 L234.8 128.3 L235.0 129.1 L235.3 129.8 L235.5 130.6 L235.8 131.3 L236.1 132.1 L236.3 132.9 L236.6 133.6 L236.9 134.4 L237.1 135.1 L237.4 135.9 L237.7 136.6 L237.9 137.4 L238.2 138.2 L238.5 138.9 L238.7 139.7 L239.0 140.4 L239.3 141.2 L239.5 142.0 L239.8 142.7 L240.1 143.5 L240.4 144.2 L240.7 145.0 L240.9 145.8 L241.2 146.5 L241.5 147.3 L241.8 148.0 L242.1 148.8 L242.4 149.5 L242.6 150.3 L242.9 151.0 L243.2 151.8 L243.5 152.6 L243.8 153.3 L244.1 154.1 L244.4 154.8 L244.7 155.5 L245.0 156.3 L245.3 157.0 L245.7 157.8 L246.0 158.5 L246.3 159.3 L246.6 160.0 L246.9 160.8 L247.2 161.5 L247.6 162.2 L247.9 163.0 L248.2 163.7 L248.6 164.4 L248.9 165.1 L249.3 165.9 L249.6 166.6 L250.0 167.3 L250.3 168.0 L250.7 168.8 L251.0 169.5 L251.4 170.2 L251.8 170.9 L252.1 171.6 L252.5 172.3 L252.9 173.0 L253.3 173.7 L253.6 174.4 L254.0 175.1 L254.4 175.8 L254.8 176.5 L255.2 177.2 L255.6 177.9 L256.0 178.6 L256.5 179.2 L256.9 179.9 L257.3 180.6 L257.7 181.3 L258.2 181.9 L258.6 182.6 L259.1 183.2 L259.5 183.9 L260.0 184.6 L260.4 185.2 L260.9 185.8 L261.3 186.5 L261.8 187.1 L262.3 187.8 L262.8 188.4 L263.3 189.0 L263.8 189.6 L264.3 190.3 L264.8 190.9 L265.3 191.5 L265.8 192.1 L266.3 192.7 L266.9 193.3 L267.4 193.9 L267.9 194.5 L268.5 195.0 L269.0 195.6 L269.6 196.2 L270.1 196.8 L270.7 197.3 L271.3 197.9 L271.8 198.5 L272.4 199.0 L273.0 199.6 L273.6 200.1 L274.2 200.6 L274.8 201.2 L275.4 201.7 L276.0 202.2 L276.6 202.8 L277.2 203.3 L277.8 203.8 L278.4 204.3 L279.1 204.8 L279.7 205.3 L280.3 205.8 L281.0 206.3 L281.6 206.8 L282.3 207.3 L282.9 207.7 L283.6 208.2 L284.2 208.7 L284.9 209.2 L285.5 209.6 L286.2 210.1 L286.9 210.5 L287.6 211.0 L288.2 211.4 L288.9 211.8 L289.6 212.3 L290.3 212.7 L291.0 213.1 L291.7 213.5 L292.3 213.9 L293.0 214.3 L293.7 214.7 L294.4 215.1 L295.2 215.5 L295.9 215.9 L296.6 216.3 L297.3 216.6 L298.0 217.0 L298.7 217.4 L299.4 217.7 L300.2 218.1 L300.9 218.4 L301.6 218.8 L302.3 219.1 L303.1 219.4 L303.8 219.8 L304.5 220.1 L305.3 220.4 L306.0 220.7 L306.8 221.0 L307.5 221.3 L308.3 221.6 L309.0 221.8 L309.8 222.1 L310.5 222.4 L311.3 222.6 L312.0 222.9 L312.8 223.1 L313.5 223.4 L314.3 223.6 L315.1 223.8 L315.9 224.0 L316.6 224.2 L317.4 224.4 L318.2 224.6 L319.0 224.8 L319.7 225.0 L320.5 225.1 L321.3 225.3 L322.1 225.4 L322.9 225.6 L323.7 225.7 L324.4 225.9 L325.2 226.0 L326.0 226.1 L326.8 226.3 L327.6 226.4 L328.4 226.5 L329.2 226.6 L330.0 226.7 L330.8 226.9 L331.6 227.0 L332.4 227.1 L333.2 227.2 L334.0 227.3 L334.8 227.4 L335.6 227.5 L336.4 227.6 L337.1 227.7 L337.9 227.8 L338.7 227.8 L339.5 227.9 L340.3 228.0 L341.1 228.1 L341.9 228.2 L342.7 228.3 L343.5 228.3 L344.3 228.4 L345.1 228.5 L345.9 228.6 L346.7 228.7 L347.5 228.7 L348.3 228.8 L349.1 228.9 L349.9 228.9 L350.7 229.0 L351.5 229.1 L352.3 229.2 L353.1 229.2 L353.9 229.3 L354.7 229.4 L355.5 229.4 L356.3 229.5 L357.1 229.6 L357.9 229.6 L358.7 229.7 L359.5 229.8 L360.3 229.8 L361.1 229.9 L361.9 230.0 L362.7 230.0 L363.5 230.1" stroke="#00f000"/>
<path d="M50.0 231.9 L205.0 231.9 L206.2 231.4 L206.7 230.2 L206.7 0.0 M218.7 -5.1 L218.7 -4.3 L218.8 -3.5 L218.8 -2.7 L218.9 -1.9 L218.9 -1.0 L219.0 -0.2 L219.0 0.6 L219.1 1.4 L219.1 2.2 L219.2 3.0 L219.2 3.8 L219.3 4.6 L219.3 5.5 L219.4 6.3 L219.4 7.1 L219.5 7.9 L219.5 8.7 L219.6 9.5 L219.7 10.3 L219.7 11.1 L219.8 11.9 L219.8 12.7 L219.9 13.5 L219.9 14.3 L220.0 15.2 L220.0 16.0 L220.1 16.8 L220.2 17.6 L220.2 18.4 L220.3 19.2 L220.3 20.0 L220.4 20.8 L220.4 21.6 L220.5 22.4 L220.6 23.2 L220.6 24.0 L220.7 24.8 L220.7 25.6 L220.8 26.4 L220.9 27.2 L220.9 28.0 L221.0 28.8 L221.1 29.6 L221.1 30.4 L221.2 31.2 L221.2 32.0 L221.3 32.8 L221.4 33.6 L221.4 34.4 L221.5 35.2 L221.6 36.0 L221.6 36.8 L221.7 37.6 L221.8 38.4 L221.8 39.2 L221.9 40.0 L222.0 40.8 L222.1 41.6 L222.1 42.4 L222.2 43.2 L222.3 44.0 L222.3 44.8 L222.4 45.6 L222.5 46.4 L222.5 47.2 L222.6 47.9 L222.7 48.7 L222.8 49.5 L222.8 50.3 L222.9 51.1 L223.0 51.9 L223.1 52.7 L223.1 53.5 L223.2 54.3 L223.3 55.1 L223.4 55.9 L223.5 56.7 L223.5 57.5 L223.6 58.3 L223.7 59.1 L223.8 59.9 L223.9 60.6 L223.9 61.4 L224.0 62.2 L224.1 63.0 L224.2 63.8 L224.3 64.6 L224.4 65.4 L224.4 66.2 L224.5 67.0 L224.6 67.8 L224.7 68.6 L224.8 69.4 L224.9 70.1 L225.0 70.9 L225.1 71.7 L225.2 72.5 L225.2 73.3 L225.3 74.1 L225.4 74.9 L225.5 75.7 L225.6 76.5 L225.7 77.3 L225.8 78.1 L225.9 78.8 L226.0 79.6 L226.1 80.4 L226.2 81.2 L226.3 82.0 L226.4 82.8 L226.5 83.6 L226.6 84.4 L226.7 85.2 L226.8 86.0 L226.9 86.7 L227.0 87.5 L227.1 88.3 L227.2 89.1 L227.3 89.9 L227.4 90.7 L227.5 91.5 L227.6 92.3 L227.7 93.1 L227.8 93.9 L227.9 94.7 L228.1 95.4 L228.2 96.2 L228.3 97.0 L228.4 97.8 L228.5 98.6 L228.6 99.4 L228.7 100.2 L228.8 101.0 L229.0 101.8 L229.1 102.6 L229.2 103.4 L229.3 104.2 L229.4 104.9 L229.5 105.7 L229.7 106.5 L229.8 107.3 L229.9 108.1 L230.0 108.9 L230.1 109.7 L230.3 110.5 L230.4 111.3 L230.5 112.1 L230.6 112.9 L230.8 113.7 L230.9 114.5 L231.0 115.3 L231.2 116.0 L231.3 116.8 L231.4 117.6 L231.6 118.4 L231.7 119.2 L231.8 120.0 L232.0 120.8 L232.1 121.6 L232.2 122.4 L232.4 123.2 L232.5 124.0 L232.6 124.8 L232.8 125.6 L232.9 126.4 L233.1 127.2 L233.2 128.0 L233.3 128.8 L233.5 129.6 L233.6 130.4 L233.8 131.2 L233.9 132.0 L234.1 132.8 L234.2 133.6 L234.4 134.4 L234.5 135.2 L234.7 136.0 L234.8 136.8 L235.0 137.5 L235.2 138.3 L235.3 139.1 L235.5 139.9 L235.6 140.7 L235.8 141.5 L236.0 142.3 L236.1 143.1 L236.3 143.9 L236.5 144.7 L236.7 145.5 L236.8 146.3 L237.0 147.1 L237.2 147.9 L237.4 148.7 L237.6 149.5 L237.8 150.2 L237.9 151.0 L238.1 151.8 L238.3 152.6 L238.5 153.4 L238.7 154.2 L238.9 154.9 L239.1 155.7 L239.4 156.5 L239.6 157.3 L239.8 158.1 L240.0 158.8 L240.2 159.6 L240.5 160.4 L240.7 161.1 L240.9 161.9 L241.2 162.7 L241.4 163.4 L241.7 164.2 L241.9 165.0 L242.2 165.7 L242.4 166.5 L242.7 167.2 L242.9 168.0 L243.2 168.8 L243.5 169.5 L243.7 170.3 L244.0 171.0 L244.3 171.7 L244.6 172.5 L244.9 173.2 L245.2 174.0 L245.5 174.7 L245.8 175.4 L246.1 176.2 L246.4 176.9 L246.8 177.6 L247.1 178.3 L247.4 179.1 L247.7 179.8 L248.1 180.5 L248.4 181.2 L248.8 181.9 L249.1 182.6 L249.5 183.3 L249.9 184.0 L250.2 184.7 L250.6 185.4 L251.0 186.1 L251.4 186.8 L251.8 187.5 L252.2 188.1 L252.6 188.8 L253.0 189.5 L253.4 190.2 L253.8 190.8 L254.3 191.5 L254.7 192.2 L255.2 192.8 L255.6 193.5 L256.1 194.1 L256.5 194.8 L257.0 195.4 L257.5 196.1 L257.9 196.7 L258.4 197.3 L258.9 198.0 L259.4 198.6 L259.9 199.2 L260.4 199.8 L261.0 200.4 L261.5 201.0 L262.0 201.6 L262.6 202.2 L263.1 202.8 L263.6 203.4 L264.2 203.9 L264.8 204.5 L265.3 205.1 L265.9 205.6 L266.5 206.2 L267.1 206.7 L267.7 207.2 L268.3 207.8 L268.9 208.3 L269.5 208.8 L270.1 209.3 L270.8 209.8 L271.4 210.3 L272.0 210.7 L272.7 211.2 L273.3 211.7 L274.0 212.1 L274.7 212.6 L275.3 213.0 L276.0 213.4 L276.7 213.8 L277.4 214.2 L278.1 214.6 L278.8 215.0 L279.5 215.4 L280.2 215.8 L280.9 216.2 L281.6 216.5 L282.3 216.9 L283.0 217.2 L283.8 217.5 L284.5 217.9 L285.2 218.2 L286.0 218.5 L286.7 218.8 L287.5 219.1 L288.2 219.4 L289.0 219.7 L289.7 220.0 L290.5 220.2 L291.2 220.5 L292.0 220.8 L292.8 221.0 L293.5 221.3 L294.3 221.5 L295.1 221.7 L295.8 222.0 L296.6 222.2 L297.4 222.4 L298.2 222.6 L298.9 222.8 L299.7 223.0 L300.5 223.2 L301.3 223.4 L302.1 223.6 L302.9 223.7 L303.7 223.9 L304.5 224.1 L305.2 224.2 L306.0 224.4 L306.8 224.6 L307.6 224.7 L308.4 224.9 L309.2 225.0 L310.0 225.1 L310.8 225.3 L311.6 225.4 L312.4 225.6 L313.2 225.7 L314.0 225.8 L314.8 225.9 L315.6 226.0 L316.4 226.2 L317.2 226.3 L318.0 226.4 L318.8 226.5 L319.6 226.6 L320.4 226.7 L321.2 226.8 L322.0 226.9 L322.8 227.0 L323.6 227.1 L324.4 227.2 L325.1 227.3 L325.9 227.4 L326.7 227.5 L327.5 227.6 L328.3 227.7 L329.1 227.7 L329.9 227.8 L330.7 227.9 L331.5 228.0 L332.3 228.0 L333.1 228.1 L333.9 228.2 L334.7 228.3 L335.5 228.3 L336.3 228.4 L337.1 228.5 L337.9 228.5 L338.7 228.6 L339.5 228.6 L340.3 228.7 L341.1 228.8 L341.9 228.8 L342.7 228.9 L343.5 228.9 L344.3 229.0 L345.1 229.0 L345.9 229.1 L346.7 229.1 L347.5 229.2 L348.3 229.2 L349.1 229.3 L349.9 229.3 L350.7 229.4 L351.5 229.4 L352.3 229.4 L353.1 229.5 L353.9 229.5 L354.7 229.6 L355.5 229.6 L356.3 229.6 L357.1 229.7 L357.9 229.7 L358.7 229.7 L359.5 229.8 L360.3 229.8 L361.1 229.8 L361.9 229.9 L362.7 229.9 L363.5 229.9" stroke="#0080b0"/>
</g>
<rect x="50.00" y="6.50" width="313.50" height="225.40" fill="none" stroke="#111" stroke-width="1.0"/>
<g fill="none" stroke-width="1.9">
<path d="M49.5 231.9 L190.8 231.9" stroke="#0c6c6c"/>
<path d="M190.8 232.0 L205.0 232.0" stroke="#0b668a"/>
<path d="M204.4 232.0 L205.9 231.7 L206.7 230.5 L206.7 228.5" stroke="#0479a8"/>
<path d="M307.3 231.9 L363.0 231.9" stroke="#a01010"/>
</g>
<rect x="57.5" y="10" width="102" height="109.4" fill="#fff" stroke="#222" stroke-width="1.0"/>
<g class="ser" fill="#4c4c4c" stroke="none" opacity="0.999">
<path d="M137.7 28.30 H152.1" stroke="#e00000" stroke-width="2.0" fill="none"/>
<text transform="translate(90.40 31.60) scale(0.800 1)" font-size="13.0" font-style="italic">δ</text>
<text transform="translate(96.50 31.60) scale(1.103 1)" font-size="13.0" font-style="italic">v</text>
<path d="M107.2 28.30 H119.8 M117.3 26.20 Q118.2 27.80 120.1 28.30 Q118.2 28.80 117.3 30.40" stroke="#4c4c4c" stroke-width="0.75" fill="none"/>
<text transform="translate(124.29 31.60) scale(0.958 1)" font-size="13.6">0</text>
<path d="M137.7 46.50 H152.1" stroke="#ff9500" stroke-width="2.0" fill="none"/>
<text transform="translate(75.43 49.65) scale(0.821 1)" font-size="13.0" font-style="italic">δ</text>
<text transform="translate(81.50 49.65) scale(1.171 1)" font-size="13.0" font-style="italic">v</text>
<path d="M92.2 45.10 H100.2 M92.2 47.40 H100.2" stroke="#4c4c4c" stroke-width="0.75" fill="none"/>
<text transform="translate(104.77 49.65) scale(1.003 1)" font-size="13.6">0.5</text>
<text transform="translate(121.87 49.65) scale(1.144 1)" font-size="13.0" font-style="italic">α</text>
<path d="M137.7 64.80 H152.1" stroke="#b4f010" stroke-width="2.0" fill="none"/>
<text transform="translate(75.43 67.75) scale(0.821 1)" font-size="13.0" font-style="italic">δ</text>
<text transform="translate(81.50 67.75) scale(1.171 1)" font-size="13.0" font-style="italic">v</text>
<path d="M92.2 63.20 H100.2 M92.2 65.50 H100.2" stroke="#4c4c4c" stroke-width="0.75" fill="none"/>
<text transform="translate(104.09 67.75) scale(1.044 1)" font-size="13.6">1.3</text>
<text transform="translate(121.87 67.75) scale(1.144 1)" font-size="13.0" font-style="italic">α</text>
<path d="M137.7 83.00 H152.1" stroke="#00f000" stroke-width="2.0" fill="none"/>
<text transform="translate(75.43 85.85) scale(0.821 1)" font-size="13.0" font-style="italic">δ</text>
<text transform="translate(81.50 85.85) scale(1.171 1)" font-size="13.0" font-style="italic">v</text>
<path d="M92.2 81.30 H100.2 M92.2 83.60 H100.2" stroke="#4c4c4c" stroke-width="0.75" fill="none"/>
<text transform="translate(104.09 85.85) scale(1.044 1)" font-size="13.6">1.9</text>
<text transform="translate(121.87 85.85) scale(1.144 1)" font-size="13.0" font-style="italic">α</text>
<path d="M137.7 101.40 H152.1" stroke="#0080b0" stroke-width="2.0" fill="none"/>
<text transform="translate(75.43 103.90) scale(0.821 1)" font-size="13.0" font-style="italic">δ</text>
<text transform="translate(81.50 103.90) scale(1.171 1)" font-size="13.0" font-style="italic">v</text>
<path d="M92.2 99.35 H100.2 M92.2 101.65 H100.2" stroke="#4c4c4c" stroke-width="0.75" fill="none"/>
<text transform="translate(104.77 103.90) scale(1.016 1)" font-size="13.6">2.1</text>
<text transform="translate(121.87 103.90) scale(1.144 1)" font-size="13.0" font-style="italic">α</text>
<text transform="translate(39.24 247.70) scale(0.962 1)" font-size="13.6">-0.4</text>
<text transform="translate(84.02 247.70) scale(0.972 1)" font-size="13.6">-0.3</text>
<text transform="translate(128.80 247.70) scale(0.982 1)" font-size="13.6">-0.2</text>
<text transform="translate(173.59 247.70) scale(0.982 1)" font-size="13.6">-0.1</text>
<text transform="translate(227.61 247.70) scale(1.008 1)" font-size="13.6">0</text>
<text transform="translate(267.20 247.70) scale(1.016 1)" font-size="13.6">0.1</text>
<text transform="translate(311.98 247.70) scale(1.016 1)" font-size="13.6">0.2</text>
<text transform="translate(356.77 247.70) scale(1.003 1)" font-size="13.6">0.3</text>
<text transform="translate(36.70 235.00) scale(0.941 1)" font-size="13.6">0</text>
<text transform="translate(36.69 189.92) scale(0.976 1)" font-size="13.6">2</text>
<text transform="translate(36.91 144.84) scale(0.878 1)" font-size="13.6">4</text>
<text transform="translate(36.71 99.76) scale(0.909 1)" font-size="13.6">6</text>
<text transform="translate(36.70 54.68) scale(0.941 1)" font-size="13.6">8</text>
<text transform="translate(30.30 9.60) scale(0.941 1)" font-size="13.6">10</text>
<text transform="translate(176.22 265.40) scale(0.800 1)" font-size="14.4">(</text>
<text transform="translate(180.78 265.40) scale(1.038 1)" font-size="13.4" font-style="italic">k</text>
<path d="M191.4 261.90 H199.3" stroke="#4c4c4c" stroke-width="0.75" fill="none"/>
<text transform="translate(203.79 265.40) scale(1.021 1)" font-size="13.4" font-style="italic">k</text>
<text transform="translate(210.44 267.40) scale(1.050 1)" font-size="10.0" font-style="italic">ε</text>
<text transform="translate(214.61 265.40) scale(0.800 1)" font-size="14.4">)</text>
<path d="M219.5 268.10 L224.0 255.10" stroke="#4c4c4c" stroke-width="0.85" fill="none"/>
<text transform="translate(225.42 265.40) scale(0.906 1)" font-size="13.4" font-style="italic">q</text>
<text transform="translate(232.14 267.40) scale(0.996 1)" font-size="10.0" font-style="italic">c</text>
<g transform="translate(10.7 151) rotate(-90)">
<text transform="translate(-0.43 0.00) scale(1.038 1)" font-size="13.4" font-style="italic">q</text>
<text transform="translate(6.97 2.00) scale(0.830 1)" font-size="10.0" font-style="italic">c</text>
<path d="M14.3 -0.0 L20.9 -6.6 M14.3 -6.6 L20.9 -0.0" stroke="#4c4c4c" stroke-width="0.75" fill="none"/>
<text transform="translate(26.65 0.00) scale(1.009 1)" font-size="13.4" font-style="italic">A</text>
<text transform="translate(36.57 0.00) scale(0.963 1)" font-size="14.4">(</text>
<text transform="translate(41.29 0.00) scale(1.005 1)" font-size="13.4" font-style="italic">k</text>
<text transform="translate(49.23 0.00) scale(0.800 1)" font-size="13.4">,</text>
<text transform="translate(53.41 0.00) scale(0.898 1)" font-size="13.4" font-style="italic">ε</text>
<text transform="translate(59.91 0.00) scale(0.863 1)" font-size="14.4">)</text>
</g>
</g>
</svg>
</body></html>
